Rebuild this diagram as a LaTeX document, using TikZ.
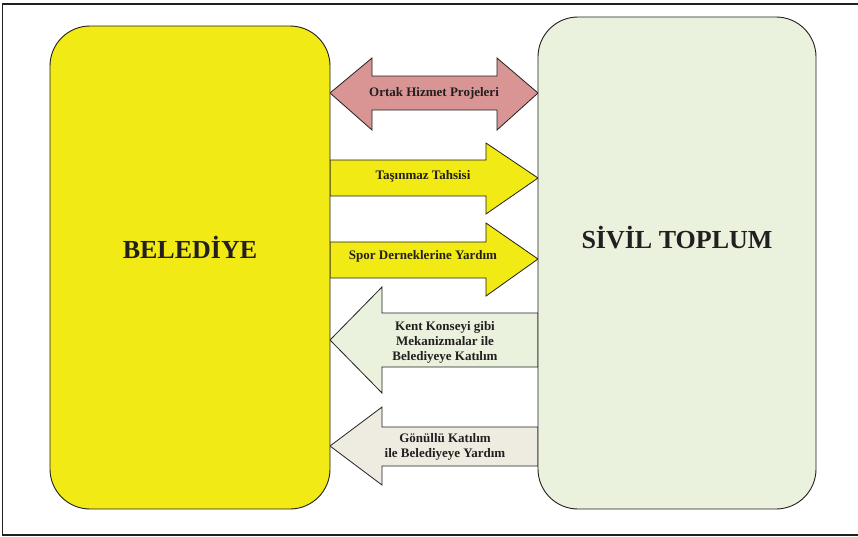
\documentclass[tikz,border=0pt]{standalone}
\usepackage{fontspec}
\setmainfont{Liberation Serif}
\definecolor{beleyellow}{HTML}{F2EA14}
\definecolor{sivilgreen}{HTML}{EAF1DD}
\definecolor{ortakpink}{HTML}{D99594}
\definecolor{gonulbeige}{HTML}{EEECE1}
\definecolor{inkgray}{HTML}{231F20}
\tikzset{
  bigbox/.style={draw=inkgray, line width=0.9pt, rounded corners=40pt},
  blockarrow/.style={draw=inkgray, line width=0.8pt, line join=miter},
  bigtext/.style={font=\fontsize{26}{30}\selectfont\bfseries, text=inkgray},
  arrowtext/.style={font=\fontsize{13}{15}\selectfont\bfseries, text=inkgray, align=center, inner sep=0pt}
}
\begin{document}
\begin{tikzpicture}[x=1pt, y=-1pt]
\useasboundingbox (0,0) rectangle (858,536);
% outer frame
\draw[inkgray, line width=1.5pt] (862,4) -- (2.5,4) -- (2.5,535) -- (862,535);
% block arrows
\draw[blockarrow, fill=ortakpink] (330,93) -- (372,58) -- (372,76) -- (497,76) -- (497,58) -- (538,93)
  -- (497,130) -- (497,110) -- (372,110) -- (372,130) -- cycle;
\draw[blockarrow, fill=beleyellow] (330,160) -- (486,160) -- (486,143) -- (538,178) -- (486,214)
  -- (486,196) -- (330,196) -- cycle;
\draw[blockarrow, fill=beleyellow] (330,242) -- (486,242) -- (486,223) -- (538,259) -- (486,296)
  -- (486,278) -- (330,278) -- cycle;
\draw[blockarrow, fill=sivilgreen] (538,313) -- (382,313) -- (382,287) -- (330,340) -- (382,393)
  -- (382,367) -- (538,367) -- cycle;
\draw[blockarrow, fill=gonulbeige] (538,427) -- (382,427) -- (382,407) -- (330,446) -- (382,485)
  -- (382,466) -- (538,466) -- cycle;
% the two sides
\node[bigbox, fill=beleyellow, minimum width=280pt, minimum height=483pt] (belediye) at (190,267.5) {};
\node[bigbox, fill=sivilgreen, minimum width=278pt, minimum height=492pt] (sivil) at (677,263) {};
\node[bigtext] (beletext) at (190,247) {BELEDİYE};
\node[bigtext] (siviltext) at (677,238) {SİVİL TOPLUM};
% arrow labels
\node[arrowtext] (ortak) at (434,93) {Ortak Hizmet Projeleri};
\node[arrowtext] (tasinmaz) at (423,176) {Taşınmaz Tahsisi};
\node[arrowtext] (spor) at (423,256) {Spor Derneklerine Yardım};
\node[arrowtext] (kent) at (445,342) {Kent Konseyi gibi\\Mekanizmalar ile\\Belediyeye Katılım};
\node[arrowtext] (gonullu) at (445,447) {Gönüllü Katılım\\ile Belediyeye Yardım};
\end{tikzpicture}
\end{document}
